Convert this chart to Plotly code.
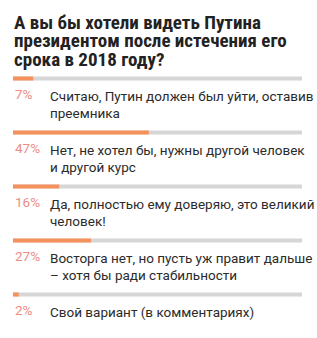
import plotly.graph_objects as go

title_lines = ["А вы бы хотели видеть Путина", "президентом после истечения его", "срока в 2018 году?"]
answers = [
    "Считаю, Путин должен был уйти, оставив<br>преемника",
    "Нет, не хотел бы, нужны другой человек<br>и другой курс",
    "Да, полностью ему доверяю, это великий<br>человек!",
    "Восторга нет, но пусть уж правит дальше<br>– хотя бы ради стабильности",
    "Свой вариант (в комментариях)",
]
percents = [7, 47, 16, 27, 2]

W, H = 317, 338
x0, x1 = 13, 302
bar_top = 78.5
step = 54
ys = [bar_top + i * step for i in range(len(percents))]

fig = go.Figure()
fig.add_trace(go.Bar(x=[100] * len(percents), y=ys, orientation="h", width=4,
                     marker=dict(color="#d6d6d6", line=dict(width=0)), hoverinfo="skip"))
fig.add_trace(go.Bar(x=percents, y=ys, orientation="h", width=4,
                     marker=dict(color="#f4915c", line=dict(width=0)), hoverinfo="skip"))

ann = []
for i, (p, a) in enumerate(zip(percents, answers)):
    ann.append(dict(x=0, y=ys[i] + 15, xref="x", yref="y", text=f"{p}%", showarrow=False,
                    xanchor="left", yanchor="middle",
                    font=dict(family="Roboto", size=13.5, color="#ee8c84")))
    for j, line in enumerate(a.split("<br>")):
        ann.append(dict(x=(48 - x0) / (x1 - x0) * 100, y=ys[i] + 17.5 + j * 16.5, xref="x", yref="y",
                        text=line, showarrow=False, xanchor="left", yanchor="middle",
                        font=dict(family="Roboto", size=13.5, color="#2b2b2b")))
for j, t in enumerate(title_lines):
    ann.append(dict(x=12 / W, y=1 - (22 + j * 18.6) / H, xref="paper", yref="paper", text=f"<b>{t}</b>",
                    showarrow=False, xanchor="left", yanchor="middle",
                    font=dict(family="Roboto Condensed, Liberation Sans Narrow, DejaVu Sans Condensed", size=19, color="#222222")))

fig.update_layout(
    width=W, height=H, margin=dict(l=0, r=0, t=0, b=0),
    paper_bgcolor="white", plot_bgcolor="white",
    barmode="overlay", showlegend=False,
    xaxis=dict(range=[0, 100], domain=[x0 / W, x1 / W], visible=False, fixedrange=True),
    yaxis=dict(range=[H, 0], domain=[0, 1], visible=False, fixedrange=True),
    annotations=ann,
)
fig.write_html("out.html")
